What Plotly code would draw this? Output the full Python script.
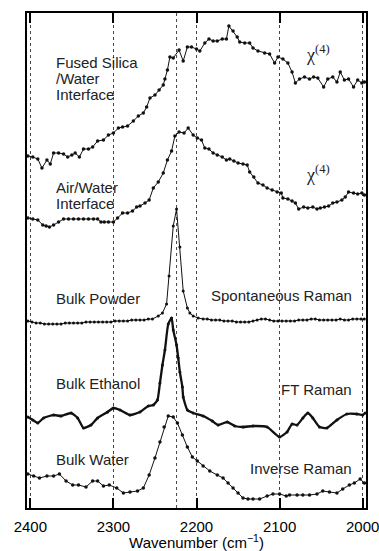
import plotly.graph_objects as go

# ---------------- data (wavenumber in cm^-1, intensity in arbitrary offset units) ----------------
silica_wn = [2403, 2397, 2391, 2386, 2380, 2376, 2372, 2366, 2360, 2355, 2350, 2346, 2341, 2336, 2330, 2325,
             2319, 2312, 2306, 2300, 2294, 2289, 2283, 2276, 2270, 2264, 2260, 2256, 2250, 2245, 2240, 2238,
             2235, 2232, 2228, 2221, 2216, 2211, 2206, 2200, 2196, 2190, 2185, 2180, 2175, 2169, 2164, 2161,
             2156, 2151, 2148, 2142, 2136, 2132, 2126, 2118, 2112, 2106, 2102, 2096, 2090, 2085, 2081, 2076,
             2070, 2064, 2059, 2054, 2047, 2042, 2036, 2031, 2027, 2022, 2017, 2011, 2006, 2001, 1998]
silica_y = [352, 351, 349, 340, 348, 344, 355, 355, 354, 351, 353, 355, 351, 359, 359, 361,
            367, 368, 373, 375, 380, 381, 382, 387, 392, 395, 401, 410, 413, 418, 423, 429,
            438, 451, 450, 458, 447, 461, 461, 459, 457, 465, 469, 467, 467, 469, 469, 482,
            477, 471, 466, 465, 465, 460, 457, 455, 454, 445, 451, 449, 445, 436, 425, 429,
            431, 429, 431, 430, 421, 429, 431, 426, 436, 428, 429, 421, 428, 425, 426]

air_wn = [2403, 2397, 2391, 2385, 2381, 2377, 2372, 2366, 2360, 2354, 2348, 2342, 2336, 2330, 2324, 2319,
          2315, 2311, 2306, 2300, 2295, 2289, 2283, 2277, 2272, 2268, 2262, 2257, 2252, 2246, 2240, 2235,
          2230, 2226, 2221, 2215, 2210, 2204, 2199, 2194, 2190, 2185, 2180, 2175, 2169, 2164, 2160, 2155,
          2150, 2144, 2139, 2136, 2131, 2126, 2120, 2115, 2109, 2103, 2098, 2096, 2090, 2085, 2081, 2077,
          2071, 2066, 2060, 2055, 2051, 2046, 2041, 2036, 2031, 2025, 2021, 2017, 2011, 2006, 2001, 1998]
air_y = [290, 289, 288, 283, 282, 281, 283, 286, 289, 289, 289, 289, 289, 289, 289, 289,
         286, 286, 286, 286, 290, 295, 295, 297, 301, 302, 305, 308, 320, 326, 335, 348,
         357, 372, 376, 375, 380, 373, 370, 368, 360, 359, 355, 353, 351, 348, 349, 347,
         345, 344, 343, 336, 331, 325, 323, 320, 318, 316, 315, 310, 309, 307, 305, 299,
         301, 300, 301, 299, 300, 301, 302, 305, 306, 308, 311, 316, 315, 314, 315, 313]

powder_wn = [2403, 2398, 2393, 2388, 2383, 2378, 2373, 2368, 2363, 2358, 2353, 2348, 2343, 2338, 2333,
             2328, 2323, 2318, 2313, 2308, 2303, 2298, 2293, 2288, 2283, 2278, 2273, 2268, 2263, 2258,
             2253, 2246, 2241, 2236, 2233, 2228, 2224, 2220, 2216, 2211, 2208, 2204, 2198, 2192, 2187,
             2182, 2177, 2172, 2167, 2162, 2157, 2152, 2147, 2142, 2137, 2132, 2127, 2122, 2117, 2112,
             2107, 2102, 2097, 2092, 2087, 2082, 2077, 2072, 2067, 2062, 2057, 2052, 2047, 2042, 2037,
             2032, 2027, 2022, 2017, 2012, 2007, 2002, 1998]
powder_y = [187, 186, 185, 185, 184, 184, 184, 184, 184, 185, 185, 185, 185, 185, 186,
            186, 186, 186, 186, 186, 186, 187, 187, 187, 187, 188, 188, 188, 188, 189,
            189, 192, 195, 204, 232, 282, 299, 261, 217, 200, 195, 192, 190, 189, 189,
            188, 188, 188, 187, 187, 187, 186, 186, 186, 186, 187, 188, 189, 189, 188,
            187, 187, 187, 187, 187, 187, 188, 188, 188, 189, 189, 188, 188, 188, 188,
            188, 189, 188, 188, 189, 189, 189, 189]

ethanol_wn = [2403, 2397, 2391, 2384, 2372, 2363, 2351, 2343, 2336, 2327, 2319, 2307, 2300, 2292, 2280,
              2268, 2258, 2252, 2247, 2244, 2241, 2238, 2234, 2230, 2228, 2224, 2222, 2220, 2217, 2216,
              2211, 2204, 2192, 2181, 2174, 2163, 2154, 2144, 2132, 2115, 2100, 2091, 2085, 2079, 2072,
              2066, 2060, 2052, 2043, 2031, 2019, 2007, 2000, 1997]
ethanol_y = [91, 88, 85, 90, 93, 92, 95, 90, 80, 83, 90, 96, 100, 98, 93,
             96, 102, 103, 108, 125, 143, 158, 184, 190, 178, 163, 150, 136, 121, 111,
             98, 95, 92, 87, 83, 86, 82, 81, 82, 81, 71, 76, 84, 83, 90,
             95, 90, 81, 80, 88, 94, 94, 93, 95]

water_wn = [2403, 2396, 2389, 2380, 2372, 2365, 2357, 2349, 2342, 2333, 2325, 2319, 2312, 2305, 2296,
            2288, 2280, 2271, 2264, 2257, 2250, 2244, 2239, 2234, 2228, 2223, 2217, 2211, 2205, 2199,
            2192, 2184, 2175, 2168, 2162, 2156, 2150, 2144, 2138, 2132, 2124, 2115, 2108, 2100, 2092,
            2088, 2079, 2072, 2064, 2055, 2048, 2040, 2031, 2024, 2016, 2010, 2003, 1998]
water_y = [34, 32, 30, 32, 32, 34, 27, 23, 23, 21, 27, 27, 22, 23, 20,
           15, 16, 17, 20, 33, 50, 66, 81, 92, 91, 85, 73, 61, 51, 47,
           42, 37, 33, 30, 25, 20, 15, 10, 9, 9, 9, 12, 14, 14, 12,
           13, 13, 13, 13, 14, 17, 16, 15, 19, 23, 25, 29, 25]

tick_vals = [2400, 2300, 2200, 2100, 2000]
tick_text = ["2400", "2300", "2200", "2100", "2000"]
ref_lines = [2224]

# labels: (text, x, y)
left_labels = [("Fused Silica", 2372, 446), ("/Water", 2372, 430), ("Interface", 2372, 414),
               ("Air/Water", 2372, 321), ("Interface", 2372, 305),
               ("Bulk Powder", 2372, 210), ("Bulk Ethanol", 2372, 125), ("Bulk Water", 2372, 49)]
right_labels = [("Spontaneous Raman", 2010, 213), ("FT Raman", 2010, 119), ("Inverse Raman", 2010, 40)]
chi_labels = [("χ<sup>(4)</sup>", 2071, 455), ("χ<sup>(4)</sup>", 2071, 335)]

SANS = "Liberation Sans, Arial, sans-serif"

fig = go.Figure()

def add_series(xs, ys, lw=1.0, ms=3.5, shape="linear"):
    fig.add_trace(go.Scatter(x=xs, y=ys, mode="lines+markers",
                             line=dict(color="#111", width=lw, shape=shape, smoothing=0.5),
                             marker=dict(color="#111", size=ms),
                             showlegend=False, hoverinfo="skip"))

add_series(silica_wn, silica_y)
add_series(air_wn, air_y)
add_series(powder_wn, powder_y, ms=3)
add_series(ethanol_wn, ethanol_y, lw=2.3, ms=3, shape="spline")
add_series(water_wn, water_y)

for xv in ref_lines:
    fig.add_shape(type="line", xref="x", yref="paper", x0=xv, x1=xv, y0=0, y1=1,
                  line=dict(color="#444", width=1, dash="dot"), layer="below")

for t, xv, yv in left_labels:
    fig.add_annotation(x=xv, y=yv, text=t, showarrow=False, xanchor="left", yanchor="middle",
                       font=dict(family=SANS, size=15, color="#222"))
for t, xv, yv in right_labels:
    fig.add_annotation(x=xv, y=yv, text=t, showarrow=False, xanchor="right", yanchor="middle",
                       font=dict(family=SANS, size=15, color="#222"))
for t, xv, yv in chi_labels:
    fig.add_annotation(x=xv, y=yv, text=t, showarrow=False, xanchor="left", yanchor="middle",
                       font=dict(family="Liberation Serif, serif", size=18, color="#222"))

fig.update_layout(
    template="none",
    width=379, height=551,
    margin=dict(l=27, r=13, t=13, b=43, autoexpand=False),
    paper_bgcolor="white", plot_bgcolor="white",
    xaxis=dict(range=[2404, 1996], tickvals=tick_vals, ticktext=tick_text, automargin=False,
               ticks="inside", ticklen=10, tickwidth=2, tickcolor="black",
               showline=True, linecolor="black", linewidth=1.5, mirror="ticks",
               showgrid=True, gridcolor="#444", gridwidth=1, griddash="dot",
               zeroline=False, ticklabelstandoff=4, ticklabeloverflow="allow",
               tickfont=dict(family=SANS, size=15, color="black"),
               title=dict(text="Wavenumber (cm<sup>−1</sup>)", standoff=4,
                          font=dict(family=SANS, size=15, color="black"))),
    yaxis=dict(range=[0, 495], showticklabels=False, ticks="", showgrid=False, zeroline=False,
               automargin=False,
               showline=True, linecolor="black", linewidth=2, mirror=True),
)

fig.write_html("out.html")
